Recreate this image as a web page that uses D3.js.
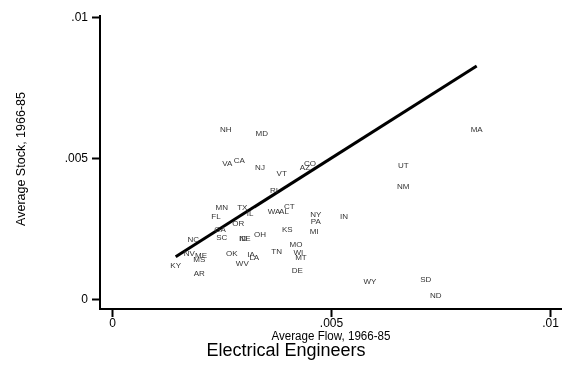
<!DOCTYPE html>
<html>
<head>
<meta charset="utf-8">
<script src="https://cdn.jsdelivr.net/npm/d3@7"></script>
<style>
  html, body { margin: 0; padding: 0; background: #fff; }
  svg { display: block; will-change: transform; transform: translateZ(0); }
  text { font-family: "Liberation Sans", Arial, sans-serif; -webkit-font-smoothing: antialiased; }
</style>
</head>
<body>
<script>
// ---------------- data ----------------
const states = ["NH","MD","VA","CA","NJ","VT","CO","AZ","UT","NM","MA","RI","MN","TX","IL","FL","OR","GA","SC","NC","NE","ID","OH","KS","WA","AL","CT","NY","PA","IN","MI","MO","TN","WI","MT","DE","OK","IA","LA","WV","NV","ME","MS","KY","AR","WY","SD","ND"];
const avgFlow = [0.002596,0.003418,0.002632,0.002906,0.003379,0.003874,0.004521,0.004406,0.006651,0.006651,0.008326,0.003699,0.002505,0.002975,0.003151,0.002374,0.002884,0.002466,0.002505,0.001856,0.003037,0.002991,0.003379,0.004002,0.003699,0.003927,0.004048,0.004651,0.004651,0.005297,0.004619,0.004201,0.003760,0.004253,0.004315,0.004231,0.002733,0.003174,0.003249,0.002975,0.001765,0.002032,0.001993,0.001454,0.001993,0.005890,0.007162,0.007390];
const avgStock = [0.006018,0.005876,0.004812,0.004894,0.004670,0.004457,0.004812,0.004670,0.004741,0.003972,0.006018,0.003840,0.003262,0.003262,0.003039,0.002918,0.002684,0.002447,0.002174,0.002117,0.002163,0.002163,0.002270,0.002482,0.003096,0.003096,0.003273,0.002979,0.002741,0.002918,0.002411,0.001915,0.001677,0.001642,0.001479,0.000993,0.001621,0.001571,0.001479,0.001266,0.001621,0.001560,0.001408,0.001195,0.000911,0.000638,0.000699,0.000131];
// fitted line endpoints
const fitX = [0.001454, 0.008326];
const fitY = [0.00150, 0.00826];
const xTicks = [0, 0.005, 0.01];
const xTickLabels = ["0", ".005", ".01"];
const yTicks = [0, 0.005, 0.01];
const yTickLabels = ["0", ".005", ".01"];
const xTitle = "Average Flow, 1966-85";
const yTitle = "Average Stock, 1966-85";
const chartTitle = "Electrical Engineers";

// ---------------- chart ----------------
const W = 584, H = 365;
const svg = d3.select("body").append("svg").attr("width", W).attr("height", H);

const x = d3.scaleLinear().domain([0, 0.01]).range([112, 550]);
const y = d3.scaleLinear().domain([0, 0.01]).range([299, 17]);

const axisX0 = 100, axisY0 = 309;

// y axis
const yAxis = svg.append("g").attr("transform", `translate(${axisX0},0)`)
  .call(d3.axisLeft(y).tickValues(yTicks).tickFormat((d, i) => yTickLabels[i]).tickSize(8).tickPadding(4));
yAxis.select(".domain").remove();
yAxis.append("line").attr("x1", 0).attr("x2", 0).attr("y1", 15).attr("y2", axisY0 + 1)
  .attr("stroke", "#000").attr("stroke-width", 2);
yAxis.selectAll(".tick line").attr("stroke", "#000").attr("stroke-width", 2);
yAxis.selectAll(".tick text").attr("font-size", 12).attr("fill", "#000")
  .attr("font-family", "'Liberation Sans', Arial, sans-serif");

// x axis
const xAxis = svg.append("g").attr("transform", `translate(0,${axisY0})`)
  .call(d3.axisBottom(x).tickValues(xTicks).tickFormat((d, i) => xTickLabels[i]).tickSize(8).tickPadding(1));
xAxis.select(".domain").remove();
xAxis.append("line").attr("x1", axisX0 - 1).attr("x2", 562).attr("y1", 0).attr("y2", 0)
  .attr("stroke", "#000").attr("stroke-width", 2);
xAxis.selectAll(".tick line").attr("stroke", "#000").attr("stroke-width", 2);
xAxis.selectAll(".tick text").attr("font-size", 12).attr("fill", "#000")
  .attr("font-family", "'Liberation Sans', Arial, sans-serif");

// fitted line
const fitData = fitX.map((v, i) => [v, fitY[i]]);
svg.append("path")
  .datum(fitData)
  .attr("fill", "none")
  .attr("stroke", "#000")
  .attr("stroke-width", 3)
  .attr("d", d3.line().x(d => x(d[0])).y(d => y(d[1])));

// state labels
svg.append("g").attr("opacity", 0.999).selectAll("text")
  .data(states.map((s, i) => ({ s, fx: avgFlow[i], st: avgStock[i] })))
  .join("text")
  .attr("x", d => x(d.fx))
  .attr("y", d => y(d.st))
  .attr("text-anchor", "middle")
  .attr("dominant-baseline", "central")
  .attr("font-size", 8)
  .attr("fill", "#333")
  .text(d => d.s);

// titles
svg.append("text").attr("x", 331).attr("y", 340).attr("text-anchor", "middle")
  .attr("font-size", 12).attr("fill", "#000")
  .attr("textLength", 119).attr("lengthAdjust", "spacingAndGlyphs")
  .text(xTitle);

svg.append("text").attr("transform", "translate(25,159) rotate(-90)").attr("text-anchor", "middle")
  .attr("font-size", 12.5).attr("fill", "#000")
  .text(yTitle);

svg.append("text").attr("x", 286).attr("y", 356).attr("text-anchor", "middle")
  .attr("font-size", 18).attr("fill", "#000")
  .text(chartTitle);
</script>
</body>
</html>
